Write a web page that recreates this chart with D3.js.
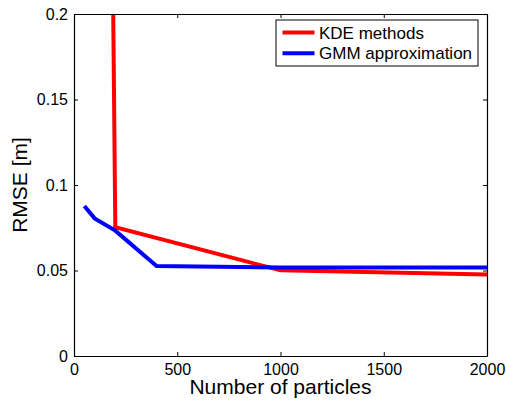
<!DOCTYPE html>
<html>
<head>
<meta charset="utf-8">
<script src="https://d3js.org/d3.v7.min.js"></script>
<style>
body { margin: 0; background: #fff; }
svg text { font-family: "Liberation Sans", Arial, sans-serif; fill: #000; }
</style>
</head>
<body>
<div id="chart"></div>
<script>
//Data
var particles = [50, 100, 200, 400, 1000, 2000];
var kdeParticles = [50, 100, 200, 1000, 2000];
var kdeRmse = [2.1, 1.32, 0.0753, 0.0501, 0.0477];
var gmmRmse = [0.0877, 0.0805, 0.0733, 0.0526, 0.0517, 0.0517];
var xTicks = [0, 500, 1000, 1500, 2000];
var yTicks = [0, 0.05, 0.1, 0.15, 0.2];
var seriesNames = ["KDE methods", "GMM approximation"];
var seriesColors = ["#ff0000", "#0000ff"];

var W = 507, H = 403;
//axes box (window.top is read-only, so no plain "top")
var boxL = 74, boxR = 487, boxT = 14, boxB = 356;

var svg = d3.select('#chart').append('svg')
  .attr('width', W)
  .attr('height', H);

var x = d3.scaleLinear().domain([0, 2000]).range([boxL, boxR]);
var y = d3.scaleLinear().domain([0, 0.2]).range([boxB, boxT]);

//clip the lines to the axes box
svg.append('clipPath').attr('id', 'box')
  .append('rect')
  .attr('x', boxL).attr('y', boxT)
  .attr('width', boxR - boxL).attr('height', boxB - boxT);

var line = d3.line()
  .x(function(d){ return x(d[0]); })
  .y(function(d){ return y(d[1]); });

var kde = kdeParticles.map(function(p, i){ return [p, kdeRmse[i]]; });
var gmm = particles.map(function(p, i){ return [p, gmmRmse[i]]; });

var plot = svg.append('g').attr('clip-path', 'url(#box)');

plot.append('path')
  .datum(kde)
  .attr('d', line)
  .attr('fill', 'none')
  .attr('stroke', seriesColors[0])
  .attr('stroke-width', 4)
  .attr('stroke-linejoin', 'miter');

plot.append('path')
  .datum(gmm)
  .attr('d', line)
  .attr('fill', 'none')
  .attr('stroke', seriesColors[1])
  .attr('stroke-width', 4)
  .attr('stroke-linejoin', 'miter');

//axes, MATLAB style with inward ticks on all four sides
var fs = 16;
svg.append('g')
  .attr('transform', 'translate(0,' + boxB + ')')
  .call(d3.axisBottom(x).tickValues(xTicks).tickSizeInner(-4).tickSizeOuter(0).tickPadding(8).tickFormat(d3.format('d')))
  .call(function(g){ g.selectAll('text').style('font-size', fs + 'px'); });

svg.append('g')
  .attr('transform', 'translate(0,' + boxT + ')')
  .call(d3.axisTop(x).tickValues(xTicks).tickSizeInner(-4).tickSizeOuter(0).tickFormat(''));

svg.append('g')
  .attr('transform', 'translate(' + boxL + ',0)')
  .call(d3.axisLeft(y).tickValues(yTicks).tickSizeInner(-4).tickSizeOuter(0).tickPadding(6)
    .tickFormat(function(d){ return d === 0 ? '0' : String(+d.toFixed(2)); }))
  .call(function(g){ g.selectAll('text').style('font-size', fs + 'px'); });

svg.append('g')
  .attr('transform', 'translate(' + boxR + ',0)')
  .call(d3.axisRight(y).tickValues(yTicks).tickSizeInner(-4).tickSizeOuter(0).tickFormat(''));

svg.selectAll('.domain').attr('stroke', '#000').attr('stroke-width', 1.2);
svg.selectAll('.tick line').attr('stroke', '#000');

//axis labels
svg.append('text')
  .attr('x', (boxL + boxR) / 2)
  .attr('y', 394)
  .attr('text-anchor', 'middle')
  .style('font-size', '21px')
  .text('Number of particles');

svg.append('text')
  .attr('transform', 'translate(27,' + (boxT + boxB) / 2 + ') rotate(-90)')
  .attr('text-anchor', 'middle')
  .style('font-size', '21px')
  .text('RMSE [m]');

//legend
var legend = svg.append('g').attr('transform', 'translate(276,20)');
legend.append('rect')
  .attr('width', 202).attr('height', 46)
  .attr('fill', '#fff')
  .attr('stroke', '#000')
  .attr('stroke-width', 1);

seriesNames.forEach(function(name, i){
  var ly = 12.5 + i * 20.7;
  legend.append('line')
    .attr('x1', 6.5).attr('x2', 38.5)
    .attr('y1', ly).attr('y2', ly)
    .attr('stroke', seriesColors[i])
    .attr('stroke-width', 4);
  legend.append('text')
    .attr('x', 43)
    .attr('y', ly + 6)
    .style('font-size', '17px')
    .text(name);
});
</script>
</body>
</html>
